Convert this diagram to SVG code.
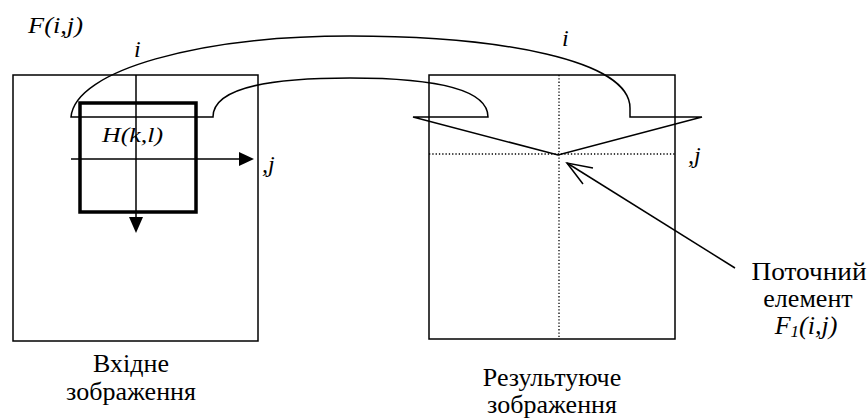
<svg xmlns="http://www.w3.org/2000/svg" width="868" height="419" viewBox="0 0 868 419">
<style>
.ln{fill:none;stroke:#000;stroke-width:1.5}
.thick{fill:none;stroke:#000;stroke-width:3.5}
.dot{fill:none;stroke:#000;stroke-width:1.3;stroke-dasharray:1.3 2}
.it{font-family:"Liberation Serif","Times New Roman",serif;font-style:italic;fill:#000}
.rm{font-family:"Liberation Serif","Times New Roman",serif;fill:#000}
</style>
<rect width="868" height="419" fill="#fff"/>
<g id="input-image">
<rect class="ln" x="13" y="75" width="245" height="266"/>
<rect class="thick" x="80" y="103" width="116" height="109"/>
<line class="ln" x1="136" y1="75" x2="136" y2="220"/>
<polygon points="129,217 143,217 136,233" fill="#000"/>
<line class="ln" x1="71" y1="159" x2="242" y2="159"/>
<polygon points="239,152 239,166 254,159" fill="#000"/>
<text class="it" x="28" y="33" font-size="24" textLength="55" lengthAdjust="spacingAndGlyphs">F(i,j)</text>
<text class="it" x="134" y="57" font-size="24">i</text>
<text class="it" x="102" y="142" font-size="22" textLength="61" lengthAdjust="spacingAndGlyphs">H(k,l)</text>
<text class="it" x="262" y="172" font-size="24">,j</text>
<text class="rm" x="131" y="372" font-size="26" text-anchor="middle">Вхідне</text>
<text class="rm" x="131" y="400" font-size="26" text-anchor="middle">зображення</text>
</g>
<g id="output-image">
<rect class="ln" x="429" y="75" width="246" height="264"/>
<line class="dot" x1="559" y1="75" x2="559" y2="339"/>
<line class="dot" x1="429" y1="154" x2="675" y2="154"/>
<text class="it" x="562" y="46" font-size="24">i</text>
<text class="it" x="688" y="163" font-size="24">,j</text>
<text class="rm" x="552" y="386" font-size="26" text-anchor="middle">Результуюче</text>
<text class="rm" x="552" y="413" font-size="26" text-anchor="middle">зображення</text>
</g>
<g id="current-element">
<text class="rm" x="809" y="280" font-size="26" text-anchor="middle" textLength="115" lengthAdjust="spacingAndGlyphs">Поточний</text>
<text class="rm" x="808" y="307" font-size="26" text-anchor="middle">елемент</text>
<text class="it" x="806" y="334" font-size="26" text-anchor="middle">F<tspan font-size="17" dy="3">1</tspan><tspan dy="-3">(i,j)</tspan></text>
</g>
<g id="connectors">
<path class="ln" stroke-width="2" d="M413,117 L488,117 C488,85 420,78 350,78 C280,78 213,85 213,117 L71,117 C75,70 200,36 350,36 C500,36 630,60 630,108 L630,117 L702,117 L558,155 Z"/>
<line class="ln" x1="735" y1="268" x2="567" y2="163"/>
<polyline class="ln" points="593,168 567,163 583,184"/>
</g>
</svg>
